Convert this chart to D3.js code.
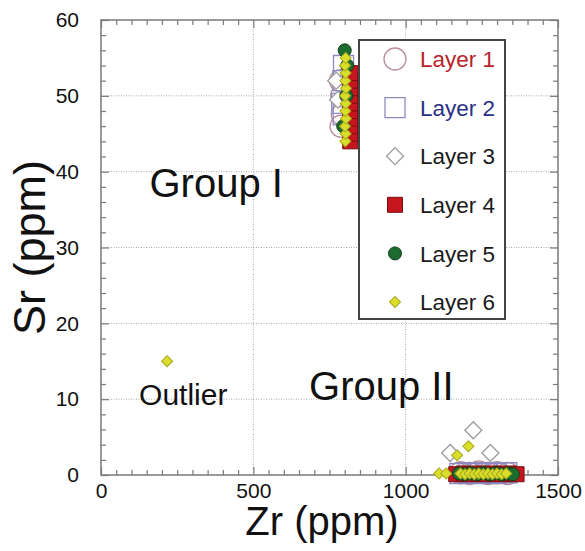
<!DOCTYPE html>
<html>
<head>
<meta charset="utf-8">
<script src="https://cdn.jsdelivr.net/npm/d3@7"></script>
<style>
  body { margin: 0; background: #fff; }
  text { font-family: "Liberation Sans", Arial, Helvetica, sans-serif; }
</style>
</head>
<body>
<svg id="chart"></svg>
<script>
const width  = 585
const height = 551
const margin = {top: 20, right: 27, bottom: 76, left: 101}

// tick labels
const xTicks = [0, 500, 1000, 1500]
const yTicks = [0, 10, 20, 30, 40, 50, 60]

// series values, [Zr, Sr] in ppm
const layer1 = [[788, 46], [792, 47.5], [790, 50], [786, 52],
                [1180, 0.3], [1210, 0.2], [1240, 0.4], [1270, 0.2], [1300, 0.3], [1335, 0.2]]
const layer2 = [[796, 54], [794, 52], [790, 49], [795, 47.5],
                [1178, 0.2], [1208, 0.3], [1238, 0.2], [1268, 0.3], [1298, 0.2], [1332, 0.3]]
const layer3 = [[772, 52], [778, 49.5], [1146, 2.9], [1222, 5.9], [1278, 2.9],
                [1200, 0.3], [1260, 0.2]]
const layer4 = [[818, 44], [818, 45], [818, 46], [818, 47], [818, 48], [818, 49],
                [818, 50], [818, 51], [818, 52], [818, 53],
                [1166, 0.1], [1190, 0.2], [1215, 0.1], [1240, 0.2], [1265, 0.1],
                [1290, 0.2], [1315, 0.1], [1340, 0.2], [1364, 0.1]]
const layer5 = [[800, 56], [795, 46], [808, 54], [805, 50],
                [1175, 0.2], [1195, 0.1], [1215, 0.2], [1235, 0.1], [1255, 0.2],
                [1275, 0.1], [1295, 0.2], [1315, 0.1], [1335, 0.2], [1352, 0.1]]
const layer6 = [[802, 44], [803, 45], [801, 46], [804, 47], [802, 48], [803, 49],
                [801, 50], [804, 51], [802, 52], [803, 53], [801, 54], [803, 55],
                [217, 15],
                [1110, 0.2], [1133, 0.2], [1169, 2.6], [1206, 3.8],
                [1180, 0.2], [1195, 0.1], [1210, 0.2], [1225, 0.1], [1240, 0.2],
                [1255, 0.1], [1270, 0.2], [1285, 0.1], [1300, 0.2], [1315, 0.1], [1330, 0.2]]

const layerNames = ["Layer 1", "Layer 2", "Layer 3", "Layer 4", "Layer 5", "Layer 6"]
const layerData  = [layer1, layer2, layer3, layer4, layer5, layer6]

const notes     = ["Group I", "Group II", "Outlier"]
const notePos   = [[378, 36.6], [920, 9.9], [270, 9.2]]

// marker styles per layer
const styles = [
  {shape: d3.symbolCircle, size: Math.PI * 11 * 11, rot: 0, fill: "none", stroke: "#b88e9c", sw: 1.3, label: "#b8232b"},
  {shape: d3.symbolSquare, size: 20 * 20, rot: 0, fill: "none", stroke: "#8e8bc2", sw: 1.3, label: "#2b2f86"},
  {shape: d3.symbolSquare, size: 17 * 17 / 2, rot: 45, fill: "#fff", stroke: "#9c9c9c", sw: 1.3, label: "#1a1a1a"},
  {shape: d3.symbolSquare, size: 15 * 15, rot: 0, fill: "#c4161c", stroke: "#7d0c10", sw: 1, label: "#1a1a1a"},
  {shape: d3.symbolCircle, size: Math.PI * 6.5 * 6.5, rot: 0, fill: "#1c6b2f", stroke: "#0e3f1a", sw: 1, label: "#1a1a1a"},
  {shape: d3.symbolSquare, size: 11 * 11 / 2, rot: 45, fill: "#d8de2a", stroke: "#a9a91f", sw: 1, label: "#1a1a1a"}
]

let svg = d3.select("#chart")
            .attr("width", width)
            .attr("height", height)

const x = d3.scaleLinear().domain([0, 1500]).range([margin.left, width - margin.right])
const y = d3.scaleLinear().domain([0, 60]).range([height - margin.bottom, margin.top])

// dotted grid
svg.append("g")
    .selectAll("line")
    .data(xTicks.slice(1, -1))
    .enter().append("line")
    .attr("x1", d => x(d)).attr("x2", d => x(d))
    .attr("y1", y(0)).attr("y2", y(60))
    .style("stroke", "#a9a9a9")
    .style("stroke-dasharray", "1,1.5")
svg.append("g")
    .selectAll("line")
    .data(yTicks.slice(1, -1))
    .enter().append("line")
    .attr("y1", d => y(d)).attr("y2", d => y(d))
    .attr("x1", x(0)).attr("x2", x(1500))
    .style("stroke", "#a9a9a9")
    .style("stroke-dasharray", "1,1.5")

// axes, ticks pointing inwards on all four sides
const xMinor = d3.range(0, 1501, 50).filter(d => d % 500)
const yMinor = d3.range(0, 61, 2).filter(d => d % 10)

const addAxis = (axis, tx, ty, labels) => {
    const g = svg.append("g").attr("transform", `translate(${tx},${ty})`).call(axis)
    g.select(".domain").remove()
    g.selectAll("line").style("stroke", "#7a7a7a").style("stroke-width", 1.2)
    g.selectAll("text").style("font-size", "21px").style("fill", "#111")
    if (!labels) g.selectAll("text").remove()
    return g
}

addAxis(d3.axisBottom(x).tickValues(xTicks).tickSize(-8).tickPadding(8).tickFormat(d3.format("d")), 0, y(0), true)
addAxis(d3.axisBottom(x).tickValues(xMinor).tickSize(-5), 0, y(0), false)
addAxis(d3.axisTop(x).tickValues(xTicks).tickSize(-8), 0, y(60), false)
addAxis(d3.axisTop(x).tickValues(xMinor).tickSize(-5), 0, y(60), false)
addAxis(d3.axisLeft(y).tickValues(yTicks).tickSize(-8).tickPadding(22), x(0), 0, true)
addAxis(d3.axisLeft(y).tickValues(yMinor).tickSize(-5), x(0), 0, false)
addAxis(d3.axisRight(y).tickValues(yTicks).tickSize(-8), x(1500), 0, false)
addAxis(d3.axisRight(y).tickValues(yMinor).tickSize(-5), x(1500), 0, false)

// frame
svg.append("rect")
    .attr("x", x(0)).attr("y", y(60))
    .attr("width", x(1500) - x(0)).attr("height", y(0) - y(60))
    .style("fill", "none")
    .style("stroke", "#7a7a7a")
    .style("stroke-width", 1.5)

// points
layerData.forEach((pts, i) => {
    const s = styles[i]
    svg.append("g")
        .selectAll("path")
        .data(pts)
        .enter().append("path")
        .attr("d", d3.symbol().type(s.shape).size(s.size))
        .attr("transform", d => `translate(${x(d[0])},${y(d[1])}) rotate(${s.rot})`)
        .style("fill", s.fill)
        .style("stroke", s.stroke)
        .style("stroke-width", s.sw)
})

// annotations
svg.append("g")
    .selectAll("text")
    .data(notes)
    .enter().append("text")
    .attr("x", (d, i) => x(notePos[i][0]))
    .attr("y", (d, i) => y(notePos[i][1]))
    .attr("text-anchor", "middle")
    .style("font-size", (d, i) => i == 2 ? "30px" : "40px")
    .style("fill", "#111")
    .text(d => d)

// axis titles
svg.append("text")
    .attr("x", 322)
    .attr("y", 535)
    .attr("text-anchor", "middle")
    .style("font-size", "40px")
    .style("fill", "#111")
    .text("Zr (ppm)")
svg.append("text")
    .attr("transform", `translate(45,${(y(0) + y(60)) / 2}) rotate(-90)`)
    .attr("text-anchor", "middle")
    .style("font-size", "45px")
    .style("fill", "#111")
    .text("Sr (ppm)")

// legend
const legend = svg.append("g")
legend.append("rect")
    .attr("x", 359).attr("y", 40)
    .attr("width", 146).attr("height", 279)
    .style("fill", "#fff")
    .style("stroke", "#444")
    .style("stroke-width", 2)

const rowY = d3.scalePoint().domain(layerNames).range([59, 302])

let legendRows = legend.selectAll("g.row")
    .data(layerNames)
    .enter().append("g")
    .attr("class", "row")

legendRows.append("path")
    .attr("d", (d, i) => d3.symbol().type(styles[i].shape).size(styles[i].size)())
    .attr("transform", (d, i) => `translate(395,${rowY(d)}) rotate(${styles[i].rot})`)
    .style("fill", (d, i) => styles[i].fill == "none" ? "#fff" : styles[i].fill)
    .style("stroke", (d, i) => styles[i].stroke)
    .style("stroke-width", (d, i) => styles[i].sw)

legendRows.append("text")
    .attr("x", 420)
    .attr("y", d => rowY(d))
    .attr("dy", ".36em")
    .style("font-size", "22.5px")
    .style("fill", (d, i) => styles[i].label)
    .text(d => d)
</script>
</body>
</html>
